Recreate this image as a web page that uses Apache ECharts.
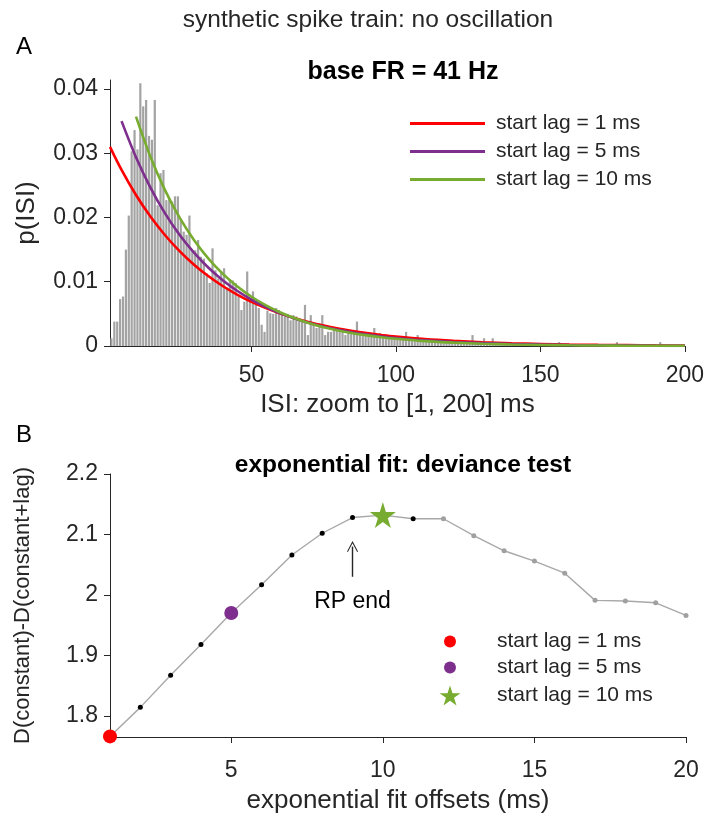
<!DOCTYPE html>
<html><head><meta charset="utf-8">
<script src="https://cdn.jsdelivr.net/npm/echarts@6/dist/echarts.min.js"></script>
<style>html,body{margin:0;padding:0;background:#fff}#c{width:707px;height:818px}</style>
</head><body><div id="c"></div>
<script>
// ---------- Panel A data ----------
// ISI histogram, 1 ms bins starting at 1 ms: [1,2), [2,3), ... [199,200)
const histFirstEdge = 1;
const histValues = [
0.0012,0.0038,0.0038,0.0073,0.0077,0.0150,0.0203,0.0303,0.0336,0.0306,
0.0409,0.0373,0.0383,0.0327,0.0321,0.0383,0.0219,0.0269,0.0274,0.0227,
0.0230,0.0225,0.0233,0.0233,0.0196,0.0178,0.0173,0.0203,0.0149,0.0149,
0.0165,0.0139,0.0136,0.0113,0.0098,0.0152,0.0118,0.0105,0.0116,0.0121,
0.0091,0.0104,0.0102,0.0098,0.0077,0.0056,0.0069,0.0116,0.0072,0.0085,
0.0066,0.0059,0.0033,0.0022,0.0055,0.0051,0.0050,0.0059,0.0056,0.0053,
0.0046,0.0050,0.0040,0.0048,0.0046,0.0043,0.0038,0.0064,0.0017,0.0048,
0.0035,0.0028,0.0035,0.0048,0.0017,0.0022,0.0022,0.0025,0.0028,0.0025,
0.0022,0.0017,0.0022,0.0020,0.0025,0.0038,0.0020,0.0020,0.0017,0.0022,
0.0015,0.0028,0.0017,0.0020,0.0014,0.0018,0.0012,0.0017,0.0015,0.0012,
0.0014,0.0010,0.0022,0.0012,0.0010,0.0013,0.0017,0.0009,0.0011,0.0008,
0.0010,0.0007,0.0009,0.0008,0.0011,0.0006,0.0008,0.0007,0.0009,0.0006,
0.0007,0.0005,0.0008,0.0006,0.0005,0.0017,0.0006,0.0004,0.0006,0.0012,
0.0005,0.0004,0.0012,0.0005,0.0003,0.0004,0.0003,0.0005,0.0002,0.0004,
0.0003,0.0002,0.0004,0.0003,0.0002,0.0003,0.0004,0.0002,0.0003,0.0002,
0.0003,0.0002,0.0001,0.0003,0.0002,0.0006,0.0002,0.0001,0.0002,0.0002,
0.0001,0.0002,0.0001,0.0002,0.0001,0.0001,0.0002,0.0001,0.0000,0.0002,
0.0001,0.0001,0.0002,0.0001,0.0001,0.0006,0.0001,0.0001,0.0002,0.0000,
0.0001,0.0001,0.0002,0.0001,0.0000,0.0001,0.0001,0.0001,0.0000,0.0001,
0.0006,0.0001,0.0000,0.0001,0.0001,0.0000,0.0001,0.0001,0.0000
];
// exponential fit curves
const fitLag1X  = [1,5,10,15,20,25,30,35,40,45,50,55,60,65,70,75,80,85,90,95,100,110,120,130,140,150,160,170,180,190,200];
const fitLag1Y  = [0.0310,0.02741,0.02350,0.02015,0.01728,0.01481,0.01270,0.01089,0.00934,0.00801,0.00686,0.00589,0.00505,0.00433,0.00371,0.00318,0.00273,0.00234,0.00201,0.00172,0.00147,0.00108,0.00080,0.00059,0.00043,0.00032,0.00023,0.00017,0.00013,0.00009,0.00007];
const fitLag5X  = [5,10,15,20,25,30,35,40,45,50,55,60,65,70,75,80,85,90,95,100,110,120,130,140,150,160,170,180,190,200];
const fitLag5Y  = [0.0350,0.02937,0.02464,0.02068,0.01735,0.01456,0.01222,0.01025,0.00860,0.00722,0.00605,0.00508,0.00426,0.00358,0.00300,0.00252,0.00211,0.00177,0.00149,0.00125,0.00088,0.00062,0.00044,0.00031,0.00022,0.00015,0.00011,0.00008,0.00005,0.00004];
const fitLag10X = [10,15,20,25,30,35,40,45,50,55,60,65,70,75,80,85,90,95,100,110,120,130,140,150,160,170,180,190,200];
const fitLag10Y = [0.0357,0.02946,0.02430,0.02005,0.01654,0.01365,0.01126,0.00929,0.00766,0.00632,0.00522,0.00431,0.00355,0.00293,0.00242,0.00199,0.00165,0.00136,0.00112,0.00076,0.00052,0.00035,0.00024,0.00016,0.00011,0.00007,0.00005,0.00003,0.00002];
const xTicksA = [50,100,150,200];
const yTicksA = [0,0.01,0.02,0.03,0.04];

// ---------- Panel B data ----------
const offsets  = [1,2,3,4,5,6,7,8,9,10,11,12,13,14,15,16,17,18,19,20];
const deviance = [1.766,1.814,1.867,1.918,1.970,2.017,2.066,2.102,2.128,2.132,2.126,2.126,2.098,2.073,2.056,2.036,1.991,1.990,1.987,1.966];
const rpEnd = 9;          // refractory period end (ms)
const testedUpTo = 11;    // black markers up to here, grey afterwards
const highlightLags = [1,5,10];
const xTicksB = [5,10,15,20];
const yTicksB = [1.8,1.9,2,2.1,2.2];

const lagNames = ['start lag = 1 ms','start lag = 5 ms','start lag = 10 ms'];
const lagColors = ['#ff0000','#7e2f8e','#77ac30'];

const FONT = 'Liberation Sans, Arial, Helvetica, sans-serif';
const INK = '#262626';
const STAR = 'path://M50,0 L61.2,34.5 L97.6,34.5 L68.2,55.9 L79.4,90.5 L50,69.1 L20.6,90.5 L31.8,55.9 L2.4,34.5 L38.8,34.5 Z';
const CHEVRON = 'path://M0,10 L5,0 L10,10 L9.2,10.5 L5,2.2 L0.8,10.5 Z';

const histData = histValues.map((v,i)=>[histFirstEdge + i + 0.5, v]);
const zip = (xs,ys)=>xs.map((x,i)=>[x,ys[i]]);

const devData = offsets.map((x,i)=>({
  value:[x,deviance[i]],
  itemStyle:{color: x<=testedUpTo ? '#000000' : '#a0a0a0'}
}));

function axisCommon(){
  return {
    axisLine:{show:true,onZero:false,lineStyle:{color:INK,width:1}},
    splitLine:{show:false},
    nameTextStyle:{fontSize:26,color:INK,fontFamily:FONT}
  };
}
function lineLegend(i,top){
  return {left:410,top:top,padding:0,itemWidth:75,itemHeight:3,icon:'rect',
    textStyle:{fontSize:21,color:INK,fontFamily:FONT,padding:[0,0,0,6]},data:[lagNames[i]]};
}
function markerLegend(i,center,icon,size){
  return {left:450-size/2,top:center-12,padding:0,itemWidth:size,itemHeight:size,
    textStyle:{fontSize:21,color:INK,fontFamily:FONT,padding:[0,0,0,497-(450+size/2+5)]},
    data:[{name:'B '+lagNames[i],icon:icon}],formatter:n=>n.slice(2)};
}

const chart = echarts.init(document.getElementById('c'),null,{renderer:'canvas'});
const option = {
  backgroundColor:'#ffffff',
  animation:false,
  textStyle:{fontFamily:FONT,color:INK},
  title:[
    {text:'synthetic spike train: no oscillation',left:363,top:3,textAlign:'center',textStyle:{fontSize:24.5,fontWeight:'normal',color:INK,fontFamily:FONT}},
    {text:'A',left:11,top:30,textStyle:{fontSize:24,fontWeight:'normal',color:'#000',fontFamily:FONT}},
    {text:'base FR = 41 Hz',left:398,top:55,textAlign:'center',textStyle:{fontSize:25,fontWeight:'bold',color:'#000',fontFamily:FONT}},
    {text:'B',left:11,top:418,textStyle:{fontSize:24,fontWeight:'normal',color:'#000',fontFamily:FONT}},
    {text:'exponential fit: deviance test',left:398,top:448,textAlign:'center',textStyle:{fontSize:24.5,fontWeight:'bold',color:'#000',fontFamily:FONT}}
  ],
  grid:[
    {left:110,top:80,width:576,height:266},
    {left:110,top:474,width:576,height:263}
  ],
  legend:[
    lineLegend(0,113), lineLegend(1,141), lineLegend(2,169),
    markerLegend(0,643,'circle',12),
    markerLegend(1,669,'circle',12),
    markerLegend(2,697,STAR,21)
  ],
  xAxis:[
    Object.assign(axisCommon(),{
      gridIndex:0,type:'value',min:1,max:200,
      axisTick:{show:true,length:6,customValues:xTicksA,lineStyle:{color:INK}},
      axisLabel:{customValues:xTicksA,fontSize:23,color:INK,margin:18,fontFamily:FONT},
      name:'ISI: zoom to [1, 200] ms',nameLocation:'middle',nameGap:46
    }),
    Object.assign(axisCommon(),{
      gridIndex:1,type:'value',min:1,max:20,
      axisTick:{show:true,length:6,customValues:xTicksB,lineStyle:{color:INK}},
      axisLabel:{customValues:xTicksB,fontSize:23,color:INK,margin:22,fontFamily:FONT},
      name:'exponential fit offsets (ms)',nameLocation:'middle',nameGap:51
    })
  ],
  yAxis:[
    Object.assign(axisCommon(),{
      gridIndex:0,type:'value',min:0,max:0.0414,
      axisTick:{show:true,length:6,customValues:yTicksA,lineStyle:{color:INK}},
      axisLabel:{customValues:yTicksA,fontSize:23,color:INK,margin:12,fontFamily:FONT,formatter:v=>String(+v.toFixed(4))},
      name:'p(ISI)',nameLocation:'middle',nameGap:70
    }),
    Object.assign(axisCommon(),{
      gridIndex:1,type:'value',min:1.765,max:2.2,
      axisTick:{show:true,length:6,customValues:yTicksB,lineStyle:{color:INK}},
      axisLabel:{customValues:yTicksB,fontSize:23,color:INK,margin:12,fontFamily:FONT,formatter:v=>String(+v.toFixed(2))},
      name:'D(constant)-D(constant+lag)',nameLocation:'middle',nameGap:76,
      nameTextStyle:{fontSize:22,color:INK,fontFamily:FONT}
    })
  ],
  series:[
    {type:'bar',xAxisIndex:0,yAxisIndex:0,data:histData,barWidth:2.2,itemStyle:{color:'#a3a3a3'},silent:true,z:1},
    {type:'line',name:lagNames[0],xAxisIndex:0,yAxisIndex:0,data:zip(fitLag1X,fitLag1Y),smooth:0.3,symbol:'none',lineStyle:{color:lagColors[0],width:2.6},itemStyle:{color:lagColors[0]},z:3},
    {type:'line',name:lagNames[1],xAxisIndex:0,yAxisIndex:0,data:zip(fitLag5X,fitLag5Y),smooth:0.3,symbol:'none',lineStyle:{color:lagColors[1],width:2.6},itemStyle:{color:lagColors[1]},z:3},
    {type:'line',name:lagNames[2],xAxisIndex:0,yAxisIndex:0,data:zip(fitLag10X,fitLag10Y),smooth:0.3,symbol:'none',lineStyle:{color:lagColors[2],width:2.6},itemStyle:{color:lagColors[2]},z:3},
    {type:'line',xAxisIndex:1,yAxisIndex:1,data:devData,symbol:'circle',symbolSize:5,showSymbol:true,lineStyle:{color:'#a8a8a8',width:1.4},z:2,
      markLine:{silent:true,symbol:['none',CHEVRON],symbolSize:[11,11],lineStyle:{color:INK,width:1.4,type:'solid'},label:{show:false},
        data:[[{coord:[rpEnd,2.03]},{coord:[rpEnd,2.08]}]]},
      markPoint:{silent:true,symbol:'rect',symbolSize:1,itemStyle:{color:'rgba(0,0,0,0)'},
        label:{show:true,position:'inside',formatter:'RP end',fontSize:23,color:'#000',fontFamily:FONT},
        data:[{coord:[rpEnd,1.989]}]}
    },
    {type:'scatter',name:'B '+lagNames[0],xAxisIndex:1,yAxisIndex:1,data:[[highlightLags[0],deviance[highlightLags[0]-1]]],symbol:'circle',symbolSize:14,itemStyle:{color:lagColors[0],opacity:1},z:5},
    {type:'scatter',name:'B '+lagNames[1],xAxisIndex:1,yAxisIndex:1,data:[[highlightLags[1],deviance[highlightLags[1]-1]]],symbol:'circle',symbolSize:14,itemStyle:{color:lagColors[1],opacity:1},z:5},
    {type:'scatter',name:'B '+lagNames[2],xAxisIndex:1,yAxisIndex:1,data:[[highlightLags[2],deviance[highlightLags[2]-1]]],symbol:STAR,symbolSize:26,itemStyle:{color:lagColors[2],opacity:1},z:5}
  ]
};
chart.setOption(option);
</script></body></html>
